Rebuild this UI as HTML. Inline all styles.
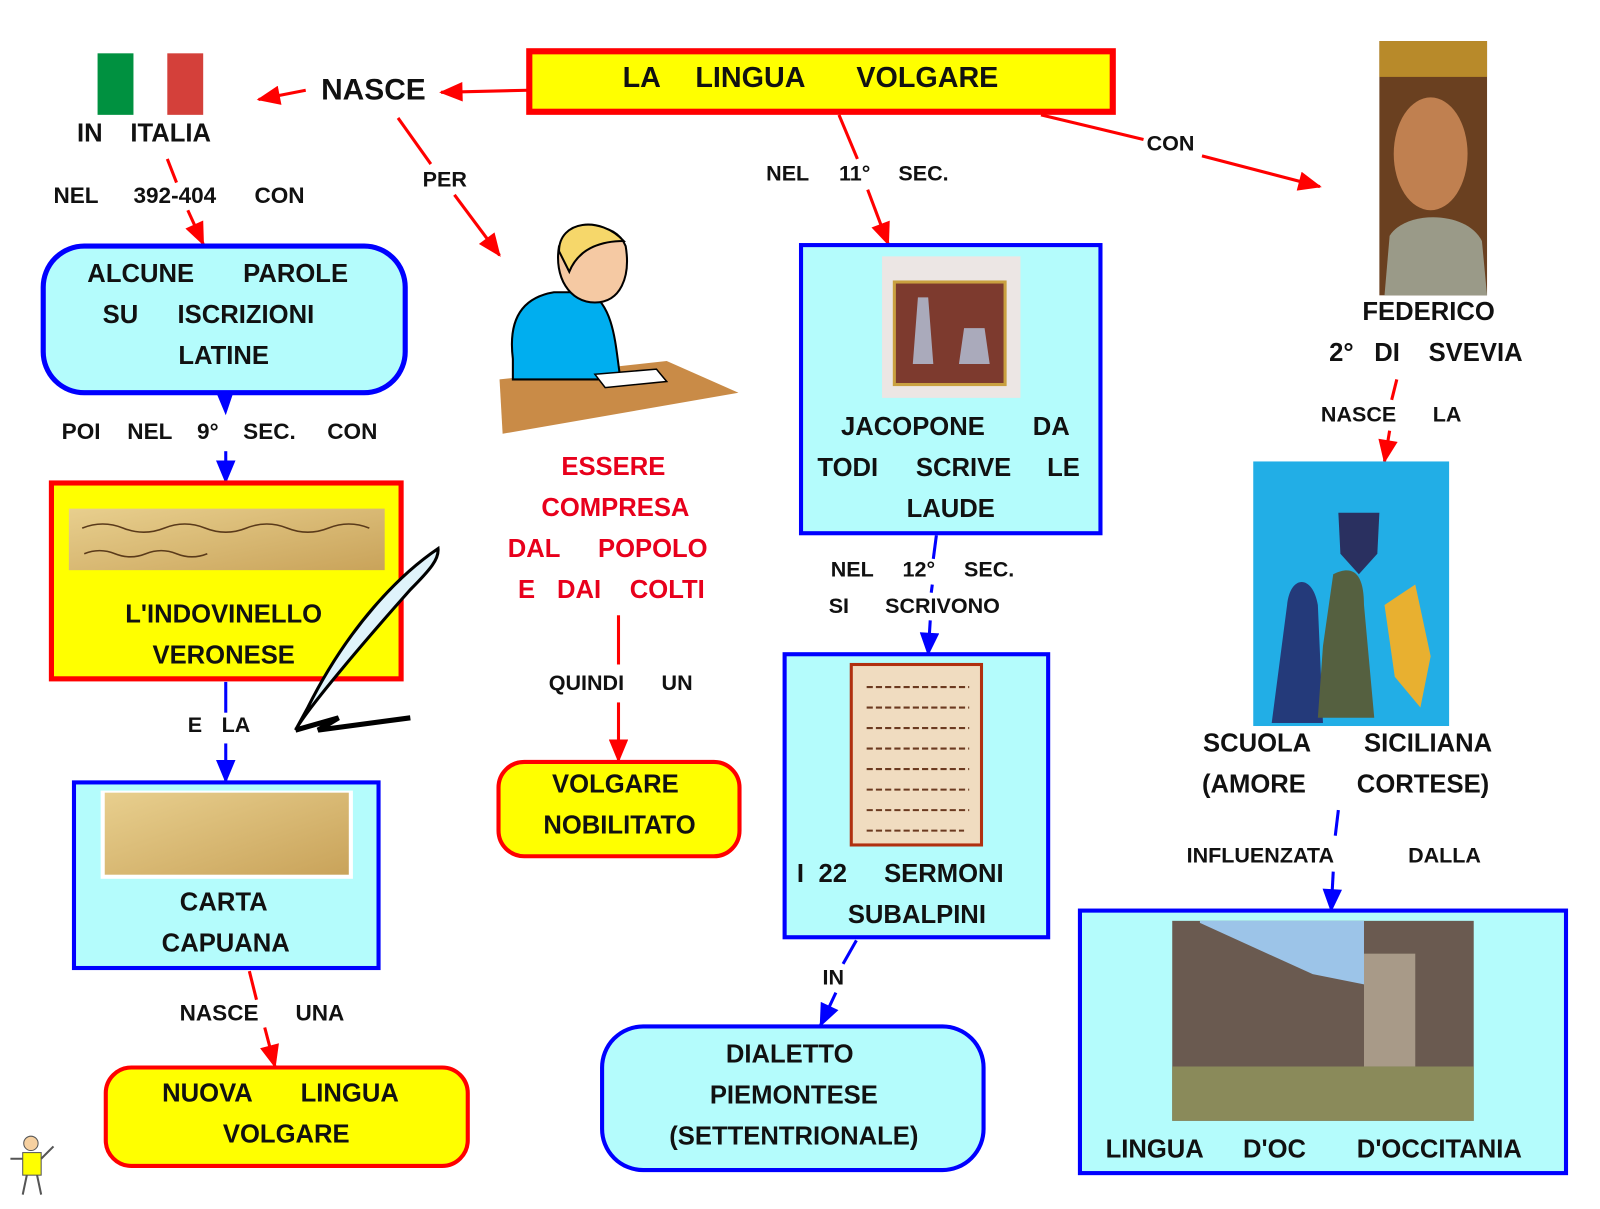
<!DOCTYPE html>
<html><head><meta charset="utf-8"><style>
html,body{margin:0;padding:0;background:#fff;width:1600px;height:1209px;overflow:hidden}
svg{display:block}
text{font-family:"Liberation Sans",Arial,sans-serif;font-weight:bold;fill:#111}
.r{fill:#e8001c}
</style></head><body>
<svg width="1600" height="1209" viewBox="0 0 1560 1179" xmlns="http://www.w3.org/2000/svg">
<defs>
<marker id="ar" viewBox="0 0 12 10" refX="11" refY="5" markerWidth="24" markerHeight="19" orient="auto" markerUnits="userSpaceOnUse"><path d="M0,0L12,5L0,10z" fill="#f00"/></marker>
<marker id="ab" viewBox="0 0 12 10" refX="11" refY="5" markerWidth="24" markerHeight="19" orient="auto" markerUnits="userSpaceOnUse"><path d="M0,0L12,5L0,10z" fill="#00f"/></marker>
<linearGradient id="parch" x1="0" y1="0" x2="1" y2="1"><stop offset="0" stop-color="#e8cf8e"/><stop offset="1" stop-color="#c9a35a"/></linearGradient>
</defs>
<g stroke-width="3" fill="none">
<line x1="515" y1="88" x2="430" y2="90" stroke="#f00" marker-end="url(#ar)"/>
<line x1="298" y1="88" x2="252" y2="97" stroke="#f00" marker-end="url(#ar)"/>
<line x1="388" y1="115" x2="420" y2="160" stroke="#f00"/>
<line x1="443" y1="190" x2="487" y2="249" stroke="#f00" marker-end="url(#ar)"/>
<line x1="163" y1="155" x2="172" y2="178" stroke="#f00"/>
<line x1="183" y1="205" x2="198" y2="238" stroke="#f00" marker-end="url(#ar)"/>
<line x1="603" y1="600" x2="603" y2="648" stroke="#f00"/>
<line x1="603" y1="685" x2="603" y2="742" stroke="#f00" marker-end="url(#ar)"/>
<line x1="818" y1="112" x2="836" y2="155" stroke="#f00"/>
<line x1="846" y1="185" x2="866" y2="238" stroke="#f00" marker-end="url(#ar)"/>
<line x1="1015" y1="112" x2="1115" y2="136" stroke="#f00"/>
<line x1="1172" y1="152" x2="1287" y2="182" stroke="#f00" marker-end="url(#ar)"/>
<line x1="1362" y1="370" x2="1357" y2="390" stroke="#f00"/>
<line x1="1355" y1="420" x2="1350" y2="450" stroke="#f00" marker-end="url(#ar)"/>
<line x1="243" y1="947" x2="250" y2="975" stroke="#f00"/>
<line x1="258" y1="1002" x2="268" y2="1040" stroke="#f00" marker-end="url(#ar)"/>
<line x1="220" y1="440" x2="220" y2="470" stroke="#00f" marker-end="url(#ab)"/>
<line x1="220" y1="665" x2="220" y2="695" stroke="#00f"/>
<line x1="220" y1="725" x2="220" y2="762" stroke="#00f" marker-end="url(#ab)"/>
<line x1="913" y1="522" x2="910" y2="545" stroke="#00f"/>
<line x1="909" y1="570" x2="908" y2="578" stroke="#00f"/>
<line x1="907" y1="605" x2="905" y2="638" stroke="#00f" marker-end="url(#ab)"/>
<line x1="835" y1="917" x2="822" y2="940" stroke="#00f"/>
<line x1="815" y1="968" x2="800" y2="1000" stroke="#00f" marker-end="url(#ab)"/>
<line x1="1305" y1="790" x2="1302" y2="815" stroke="#00f"/>
<line x1="1300" y1="850" x2="1298" y2="888" stroke="#00f" marker-end="url(#ab)"/>
</g>
<rect x="516" y="50" width="569" height="59" fill="#ff0" stroke="#f00" stroke-width="6"/>
<text y="85" font-size="28"><tspan x="607">LA</tspan><tspan x="678">LINGUA</tspan><tspan x="835">VOLGARE</tspan></text>
<rect x="95" y="52" width="35" height="60" fill="#009140"/>
<rect x="163" y="52" width="35" height="60" fill="#d4403a"/>
<text y="138" font-size="25"><tspan x="75">IN</tspan><tspan x="127">ITALIA</tspan></text>
<text x="313" y="97" font-size="29" textLength="102" lengthAdjust="spacingAndGlyphs">NASCE</text>
<text x="412" y="182" font-size="21">PER</text>
<text y="198" font-size="22"><tspan x="52">NEL</tspan><tspan x="130">392-404</tspan><tspan x="248">CON</tspan></text>
<rect x="42" y="240" width="353" height="143" rx="40" fill="#b4fcfc" stroke="#00f" stroke-width="5"/>
<path d="M210,381 L228,381 L220,405z" fill="#00f"/>
<text y="275" font-size="25"><tspan x="85">ALCUNE</tspan><tspan x="237">PAROLE</tspan></text>
<text y="315" font-size="25"><tspan x="100">SU</tspan><tspan x="173">ISCRIZIONI</tspan></text>
<text x="218" y="355" font-size="25" text-anchor="middle">LATINE</text>
<text y="428" font-size="22"><tspan x="60">POI</tspan><tspan x="124">NEL</tspan><tspan x="192">9°</tspan><tspan x="237">SEC.</tspan><tspan x="319">CON</tspan></text>
<rect x="50" y="471" width="341" height="191" fill="#ff0" stroke="#f00" stroke-width="5"/>
<rect x="67" y="496" width="308" height="60" fill="url(#parch)"/>
<path d="M80,515 q20,-8 40,0 t40,0 t40,0 t40,0 t40,0 t40,0 t40,0 M82,540 q15,-6 30,0 t30,0 t30,0 t30,0" stroke="#5a3a1a" stroke-width="1.5" fill="none"/>
<text x="218" y="607" font-size="25" text-anchor="middle">L'INDOVINELLO</text>
<text x="218" y="647" font-size="25" text-anchor="middle">VERONESE</text>
<path d="M427,535 C390,560 340,610 300,690 L288,712 C300,690 360,620 400,575 C420,555 428,545 427,535z" fill="#dff3fb" stroke="#000" stroke-width="3"/>
<path d="M288,712 L330,700 L310,712 L400,700" stroke="#000" stroke-width="5" fill="none"/>
<text y="714" font-size="21"><tspan x="183">E</tspan><tspan x="216">LA</tspan></text>
<rect x="72" y="763" width="297" height="181" fill="#b4fcfc" stroke="#00f" stroke-width="4"/>
<rect x="98" y="771" width="246" height="86" fill="#fff"/>
<rect x="102" y="773" width="238" height="80" fill="url(#parch)"/>
<text x="218" y="888" font-size="25" text-anchor="middle">CARTA</text>
<text x="220" y="928" font-size="25" text-anchor="middle">CAPUANA</text>
<text y="995" font-size="22"><tspan x="175">NASCE</tspan><tspan x="288">UNA</tspan></text>
<rect x="103" y="1041" width="353" height="96" rx="25" fill="#ff0" stroke="#f00" stroke-width="4"/>
<text y="1074" font-size="25"><tspan x="158">NUOVA</tspan><tspan x="293">LINGUA</tspan></text>
<text x="279" y="1114" font-size="25" text-anchor="middle">VOLGARE</text>
<circle cx="30" cy="1115" r="7" fill="#f6d0a0" stroke="#555"/>
<rect x="22" y="1124" width="18" height="22" fill="#ff0" stroke="#555"/>
<path d="M26,1146 L22,1165 M36,1146 L40,1165 M22,1130 L10,1130 M40,1130 L52,1118" stroke="#555" stroke-width="2"/>
<polygon points="487,370 650,352 720,383 490,423" fill="#c98b47"/>
<path d="M500,350 C495,310 510,290 540,285 L575,285 C600,300 600,340 605,370 L500,370z" fill="#00aeef" stroke="#000" stroke-width="2"/>
<path d="M545,240 C560,215 600,215 610,240 C615,270 605,295 580,295 C555,295 540,270 545,240z" fill="#f5c9a3" stroke="#000" stroke-width="2"/>
<path d="M545,245 C545,215 585,210 608,235 C590,235 565,240 555,265z" fill="#f6d76a" stroke="#000" stroke-width="2"/>
<path d="M580,365 L640,360 L650,372 L590,378z" fill="#fff" stroke="#000" stroke-width="1.5"/>
<text x="598" y="463" font-size="25" text-anchor="middle" class="r">ESSERE</text>
<text x="600" y="503" font-size="25" text-anchor="middle" class="r">COMPRESA</text>
<text y="543" font-size="25" class="r"><tspan x="495">DAL</tspan><tspan x="583">POPOLO</tspan></text>
<text y="583" font-size="25" class="r"><tspan x="505">E</tspan><tspan x="543">DAI</tspan><tspan x="614">COLTI</tspan></text>
<text y="673" font-size="21"><tspan x="535">QUINDI</tspan><tspan x="645">UN</tspan></text>
<rect x="486" y="743" width="235" height="92" rx="25" fill="#ff0" stroke="#f00" stroke-width="4"/>
<text x="600" y="773" font-size="25" text-anchor="middle">VOLGARE</text>
<text x="604" y="813" font-size="25" text-anchor="middle">NOBILITATO</text>
<text y="176" font-size="21"><tspan x="747">NEL</tspan><tspan x="818">11°</tspan><tspan x="876">SEC.</tspan></text>
<rect x="781" y="239" width="292" height="281" fill="#b4fcfc" stroke="#00f" stroke-width="4"/>
<rect x="860" y="250" width="135" height="138" fill="#ece6e4"/>
<rect x="872" y="275" width="108" height="100" fill="#7d3a2e" stroke="#c9a040" stroke-width="3"/>
<path d="M895,290 L905,290 L910,355 L890,355z M940,320 L960,320 L965,355 L935,355z" fill="#aab"/>
<text y="424" font-size="25"><tspan x="820">JACOPONE</tspan><tspan x="1007">DA</tspan></text>
<text y="464" font-size="25"><tspan x="797">TODI</tspan><tspan x="893">SCRIVE</tspan><tspan x="1021">LE</tspan></text>
<text x="927" y="504" font-size="25" text-anchor="middle">LAUDE</text>
<text y="562" font-size="21"><tspan x="810">NEL</tspan><tspan x="880">12°</tspan><tspan x="940">SEC.</tspan></text>
<text y="598" font-size="21"><tspan x="808">SI</tspan><tspan x="863">SCRIVONO</tspan></text>
<rect x="765" y="638" width="257" height="276" fill="#b4fcfc" stroke="#00f" stroke-width="4"/>
<rect x="830" y="648" width="127" height="176" fill="#f0dcc0" stroke="#b03010" stroke-width="3"/>
<path d="M845,670 H945 M845,690 H945 M845,710 H945 M845,730 H945 M845,750 H945 M845,770 H945 M845,790 H945 M845,810 H940" stroke="#6b3a20" stroke-width="2" stroke-dasharray="6 3"/>
<text y="860" font-size="25"><tspan x="777">I</tspan><tspan x="798">22</tspan><tspan x="862">SERMONI</tspan></text>
<text x="894" y="900" font-size="25" text-anchor="middle">SUBALPINI</text>
<text x="802" y="960" font-size="21">IN</text>
<rect x="587" y="1001" width="372" height="140" rx="40" fill="#b4fcfc" stroke="#00f" stroke-width="4"/>
<text x="770" y="1036" font-size="25" text-anchor="middle">DIALETTO</text>
<text x="774" y="1076" font-size="25" text-anchor="middle">PIEMONTESE</text>
<text x="774" y="1116" font-size="25" text-anchor="middle">(SETTENTRIONALE)</text>
<text x="1118" y="147" font-size="21">CON</text>
<rect x="1345" y="40" width="105" height="248" fill="#6a4020"/>
<rect x="1345" y="40" width="105" height="35" fill="#b88a2a"/>
<ellipse cx="1395" cy="150" rx="36" ry="55" fill="#c08050"/>
<path d="M1355,230 C1370,205 1430,205 1445,235 L1450,288 L1350,288z" fill="#9a9a88"/>
<text x="1393" y="312" font-size="25" text-anchor="middle">FEDERICO</text>
<text y="352" font-size="25"><tspan x="1296">2°</tspan><tspan x="1340">DI</tspan><tspan x="1393">SVEVIA</tspan></text>
<text y="411" font-size="21"><tspan x="1288">NASCE</tspan><tspan x="1397">LA</tspan></text>
<rect x="1222" y="450" width="191" height="258" fill="#22aee6"/>
<path d="M1240,705 L1255,590 C1258,560 1280,560 1285,590 L1290,705z" fill="#243a7a"/>
<path d="M1300,560 C1320,550 1330,560 1330,590 L1340,700 L1285,700 L1290,630z" fill="#556040"/>
<path d="M1305,500 L1345,500 L1343,540 L1325,560 L1307,540z" fill="#2a3060"/>
<path d="M1350,590 L1380,570 L1395,640 L1385,690 L1360,660z" fill="#e8b030"/>
<text y="733" font-size="25"><tspan x="1173">SCUOLA</tspan><tspan x="1330">SICILIANA</tspan></text>
<text y="773" font-size="25"><tspan x="1172">(AMORE</tspan><tspan x="1323">CORTESE)</tspan></text>
<text y="841" font-size="21"><tspan x="1157">INFLUENZATA</tspan><tspan x="1373">DALLA</tspan></text>
<rect x="1053" y="888" width="474" height="256" fill="#b4fcfc" stroke="#00f" stroke-width="4"/>
<rect x="1143" y="898" width="294" height="195" fill="#6a5a50"/>
<path d="M1170,898 L1330,898 L1330,960 L1280,950 L1170,900z" fill="#9cc4e8"/>
<rect x="1330" y="930" width="50" height="110" fill="#a89a88"/>
<path d="M1143,1040 L1437,1040 L1437,1093 L1143,1093z" fill="#8a8a5a"/>
<text y="1129" font-size="25"><tspan x="1078">LINGUA</tspan><tspan x="1212">D'OC</tspan><tspan x="1323">D'OCCITANIA</tspan></text>
</svg>
</body></html>
